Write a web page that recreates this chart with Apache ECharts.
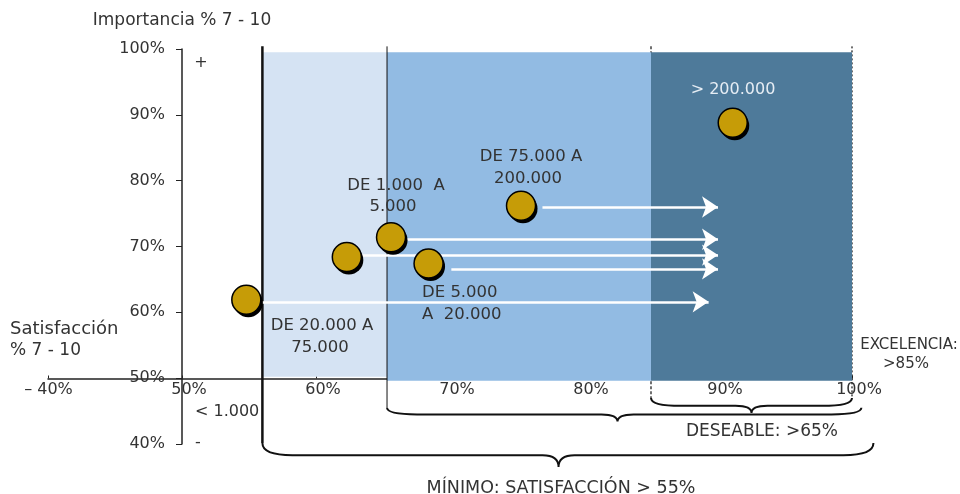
<!DOCTYPE html>
<html><head><meta charset="utf-8">
<script src="https://cdn.jsdelivr.net/npm/echarts@6.0.0/dist/echarts.min.js"></script>
<style>html,body{margin:0;padding:0;background:#fff}#c{width:960px;height:494px}</style>
</head><body><div id="c"></div>
<script>
// ---- data ----
const xTickValues = [40, 50, 60, 70, 80, 90, 100];
const xTickLabels = ['– 40%', '50%', '60%', '70%', '80%', '90%', '100%'];
const yTickLabels = ['40%', '50%', '60%', '70%', '80%', '90%', '100%'];
const pointNames = ['< 1.000', 'DE 20.000 A 75.000', 'DE 1.000 A 5.000', 'DE 5.000 A 20.000', 'DE 75.000 A 200.000', '> 200.000'];
const pointX = [54.8, 62.3, 65.6, 68.4, 75.3, 91.1];
const pointY = [61.9, 68.4, 71.4, 67.4, 76.2, 88.8];
const arrowStartX = [56, 63.4, 66.7, 70.1, 76.9];
const arrowEndX = [89.3, 90, 90, 90, 90];
const arrowY = [61.6, 68.7, 71.1, 66.6, 76.0];
const bandStart = [56, 65.3, 85];
const bandEnd = [65.3, 85, 100];
const bandTop = [99.5, 99.5, 99.5];
const bandBottom = [50.2, 49.6, 49.6];
const dividerX = [56, 65.3, 85, 100];
const dividerTopY = [100.4, 100.4, 100.4, 100.4];
const dividerBottomY = [40.15, 45.5, 47, 47];
const braceStart = [85, 65.3, 56];
const braceEnd = [100, 100.7, 101.6];
const braceTip = [92.5, 82.5, 78.1];
const braceTopY = [47, 45.5, 40.15];
const braceMidY = [45.8, 44.5, 38.3];
const braceTipY = [44.7, 43.4, 36.5];

const FONT = '"DejaVu Sans", sans-serif';
const TXT = '#333';

const chart = echarts.init(document.getElementById('c'), null, {renderer: 'canvas'});

function txt(text, x, y, align, size, color) {
  return {type: 'text', x: x, y: y, z: 100,
    style: {text: text, fill: color || TXT, font: (size || 16) + 'px ' + FONT,
      textAlign: align || 'center', textVerticalAlign: 'middle'}};
}

function dividerSeries(indices, z) {
  return {
    type: 'custom', z: z, silent: true,
    data: indices.map(i => [dividerX[i], dividerTopY[i], dividerBottomY[i], i]),
    renderItem: (params, api) => {
      const i = api.value(3);
      const a = api.coord([api.value(0), api.value(1)]);
      const b = api.coord([api.value(0), api.value(2)]);
      const widths = [2.5, 1, 1.2, 1.2];
      const dashes = [null, null, [3, 2], [2, 2]];
      return {type: 'line', shape: {x1: a[0], y1: a[1], x2: b[0], y2: b[1]},
        style: {stroke: '#111', lineWidth: widths[i], lineDash: dashes[i]}};
    }
  };
}

const option = {
  animation: false,
  grid: {left: 48, right: 108, top: 49, bottom: 50},
  xAxis: {
    type: 'value', min: 40, max: 100, interval: 10, offset: -65.5,
    axisLine: {lineStyle: {color: '#222', width: 1.5}},
    axisTick: {inside: true, length: 3, lineStyle: {color: '#222'}},
    splitLine: {show: false},
    axisLabel: {margin: 3, fontFamily: FONT, fontSize: 16, color: TXT, padding: [0, 0, 0, 14],
      formatter: v => v === 40 ? '{a|' + xTickLabels[0] + '}' : xTickLabels[xTickValues.indexOf(v)],
      rich: {a: {fontFamily: FONT, fontSize: 16, color: TXT, padding: [0, 13, 0, 0]}}}
  },
  yAxis: {
    type: 'value', min: 40, max: 100, interval: 10, offset: -134,
    name: 'Importancia % 7 - 10', nameLocation: 'end', nameGap: 20,
    nameTextStyle: {fontFamily: FONT, fontSize: 17, color: TXT, align: 'center'},
    axisLine: {lineStyle: {color: '#222', width: 1.5}},
    axisTick: {length: 6, lineStyle: {color: '#222'}},
    splitLine: {show: false},
    axisLabel: {margin: 17, fontFamily: FONT, fontSize: 16, color: TXT,
      formatter: v => yTickLabels[(v - 40) / 10]}
  },
  series: [
    dividerSeries([2, 3], 1),
    {
      type: 'line', data: [], silent: true, z: 2,
      markArea: {silent: true, z: 2,
        data: bandStart.map((s, i) => [
          {xAxis: s, yAxis: bandTop[i], itemStyle: {color: ['#d5e3f3', '#92bbe3', '#4e7a9a'][i]}},
          {xAxis: bandEnd[i], yAxis: bandBottom[i]}
        ])}
    },
    dividerSeries([0, 1], 3),
    {
      type: 'custom', z: 3, silent: true,
      data: braceStart.map((s, i) => [s, braceTopY[i], braceEnd[i], braceTip[i], braceMidY[i], braceTipY[i]]),
      renderItem: (params, api) => {
        const p1 = api.coord([api.value(0), api.value(1)]);
        const p2 = api.coord([api.value(2), api.value(1)]);
        const ym = api.coord([api.value(0), api.value(4)])[1];
        const tip = api.coord([api.value(3), api.value(5)]);
        const r = Math.min(30, (p2[0] - p1[0]) * 0.15);
        const rt = 16;
        const d = 'M' + p1[0] + ',' + p1[1] +
          ' Q' + p1[0] + ',' + ym + ' ' + (p1[0] + r) + ',' + ym +
          ' L' + (tip[0] - rt) + ',' + ym +
          ' Q' + tip[0] + ',' + ym + ' ' + tip[0] + ',' + tip[1] +
          ' Q' + tip[0] + ',' + ym + ' ' + (tip[0] + rt) + ',' + ym +
          ' L' + (p2[0] - r) + ',' + ym +
          ' Q' + p2[0] + ',' + ym + ' ' + p2[0] + ',' + p2[1];
        return {type: 'path', shape: {pathData: d}, style: {fill: null, stroke: '#111', lineWidth: 2}};
      }
    },
    {
      type: 'lines', coordinateSystem: 'cartesian2d', z: 4, silent: true,
      symbol: ['none', 'arrow'], symbolSize: 16,
      lineStyle: {color: '#fff', width: 2.5, opacity: 1, curveness: 0},
      data: arrowY.map((y, i) => ({coords: [[arrowStartX[i], y], [arrowEndX[i], y]]}))
    },
    {
      type: 'scatter', z: 5, symbolSize: 29, symbolOffset: [2, 3], silent: true,
      itemStyle: {color: '#000', opacity: 1},
      data: pointX.map((x, i) => [x, pointY[i]])
    },
    {
      type: 'scatter', z: 6, symbolSize: 29,
      itemStyle: {color: '#c69c07', borderColor: '#000', borderWidth: 1.5, opacity: 1},
      data: pointX.map((x, i) => ({name: pointNames[i], value: [x, pointY[i]]}))
    }
  ],
  graphic: [
    txt('Satisfacción', 10, 329, 'left', 18),
    txt('% 7 - 10', 10, 351, 'left', 17),
    txt('+', 201, 63),
    txt('-', 198, 443),
    txt('< 1.000', 195, 411.5, 'left'),
    txt('> 200.000', 733, 90, 'center', 16, '#e6edf4'),
    txt('DE 75.000 A', 531, 157, 'center', 16.5),
    txt('200.000', 528, 179, 'center', 16.5),
    txt('DE 1.000  A', 396, 185.5, 'center', 16.5),
    txt('5.000', 393, 207, 'center', 16.5),
    txt('DE 5.000', 422, 293, 'left', 16.5),
    txt('A  20.000', 422, 315, 'left', 16.5),
    txt('DE 20.000 A', 322, 326, 'center', 16.5),
    txt('75.000', 320, 348, 'center', 16.5),
    txt('EXCELENCIA:', 909, 345.5, 'center', 15),
    txt('>85%', 906, 364.5, 'center', 15),
    txt('DESEABLE: >65%', 762, 432, 'center', 17),
    txt('MÍNIMO: SATISFACCIÓN > 55%', 561, 488, 'center', 17.5)
  ]
};
chart.setOption(option);
</script></body></html>
